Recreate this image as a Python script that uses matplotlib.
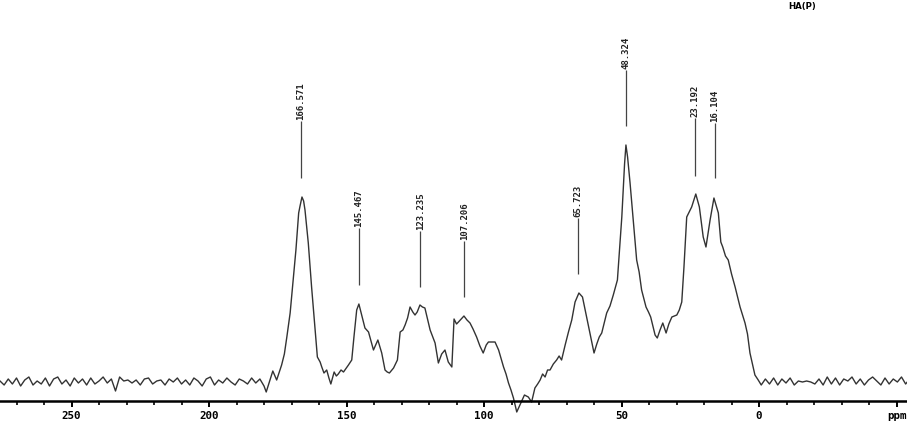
#!/usr/bin/env python3

import numpy as np
import matplotlib
matplotlib.use('Agg')
import matplotlib.pyplot as plt

# spectrum trace (ppm, intensity in arbitrary units)
ppm = [276, 274.5, 273, 271.5, 270, 268.5, 267, 265.5, 264, 262.5, 261, 259.5,
	258, 256.5, 255, 253.5, 252, 250.5, 249, 247.5, 246, 244.5, 243, 241.5,
	240, 238.5, 237, 235.5, 234, 232.5, 231, 229.5, 228, 226.5, 225, 223.5,
	222, 220.5, 219, 217.5, 216, 214.5, 213, 211.5, 210, 208.5, 207, 205.5,
	204, 202.5, 201, 199.5, 198, 196.5, 195, 193.5, 192, 190.5, 189, 187.5,
	186, 184.5, 183, 181.5, 180,
	179.2, 176.8, 175.4, 173.6, 172.6, 171.7, 170.5, 169.3, 168.4, 167.4,
	166.9, 166.2, 165.6, 165.1, 163.9, 162.7, 161.5, 160.6, 159.6, 159.0,
	158.2, 157.2, 156.4, 155.7, 154.5, 153.7, 153.0, 152.0, 151.1, 149.3,
	148.1, 147.3, 146.3, 145.5, 144.5, 143.3, 142.0, 141.0, 140.2, 138.6,
	137.2, 136.0, 135.2, 134.4, 132.9, 131.5, 130.5, 129.5, 128.7, 127.8,
	126.9, 125.9, 125.1, 124.3, 123.3, 122.4, 121.5, 119.6, 117.8, 116.6,
	115.4, 114.2, 113.0, 111.7, 110.9, 110.0, 109.3, 107.3, 106.2, 105.1,
	104.0, 102.7, 101.5, 100.3, 99.2, 98.4, 96.0, 94.7, 92.9, 92.0,
	91.1, 90.2, 89.3, 88.1, 86.6, 85.3, 83.9, 82.7, 81.5, 80.5,
	79.6, 78.7, 77.8, 76.9, 76.0, 74.8, 73.6, 72.7, 71.8, 70.5,
	69.3, 68.1, 66.9, 65.5, 64.2, 62.7, 61.2, 60.0, 59.0, 58.1,
	57.2, 56.2, 55.4, 54.2, 53.0, 51.5, 50.8, 49.9, 48.9, 48.4,
	47.8, 46.9, 45.7, 44.5, 43.6, 42.7, 41.1, 40.2, 39.4, 37.8,
	37.0, 36.0, 35.0, 33.8, 32.8, 31.7, 29.9, 29.0, 28.1, 27.3,
	26.3, 25.4, 24.5, 23.0, 21.7, 20.3, 19.3, 17.8, 16.4, 14.8,
	13.9, 13.2, 12.2, 11.2, 10.0, 8.7, 7.8, 6.9, 5.1, 4.2,
	3.3, 1.5, 0.3,
	-0.8, -2.3, -3.8, -5.3, -6.8, -8.3, -9.8, -11.3, -12.8, -14.3,
	-15.8, -17.3, -18.8, -20.3, -21.8, -23.3, -24.8, -26.3, -27.8, -29.3,
	-30.8, -32.3, -33.8, -35.3, -36.8, -38.3, -39.8, -41.3, -42.8, -44.3,
	-45.8, -47.3, -48.8, -50.3, -51.8, -53.3, -54.5]
intensity = [1, -3, 3, -2, 4, -4, 2, 5, -3, 1, -2, 4,
	-4, 3, 5, -2, 2, -4, 4, -1, 3, -3, 4, -2,
	1, 5, -1, 3, -9, 5, 1, 2, -1, 2, -3, 3,
	4, -2, 1, 2, -3, 3, 0, 4, -2, 2, -3, 4,
	1, -4, 3, 5, -3, 2, -1, 4, 0, -3, 3, 1,
	-2, 4, -1, 3, -4,
	-10, 11, 2, 17, 28, 45, 69, 105, 132, 169,
	176, 185, 181, 172, 139, 95, 55, 25, 20, 15,
	9, 12, 4, -2, 10, 6, 8, 12, 10, 17,
	22, 45, 72, 78, 67, 54, 50, 40, 32, 42,
	29, 12, 10, 9, 14, 22, 50, 52, 57, 64,
	75, 70, 67, 70, 77, 75, 74, 52, 39, 19,
	28, 32, 20, 15, 63, 58, 60, 66, 62, 59,
	53, 45, 36, 29, 37, 40, 40, 32, 15, 8,
	-1, -8, -16, -30, -21, -13, -15, -20, -6, -2,
	2, 8, 5, 12, 12, 18, 22, 26, 22, 37,
	50, 62, 80, 89, 85, 65, 45, 29, 38, 45,
	49, 60, 69, 76, 87, 102, 130, 165, 218, 237,
	225, 199, 160, 122, 110, 92, 75, 70, 65, 47,
	44, 52, 59, 49, 58, 65, 67, 72, 80, 115,
	165, 170, 175, 188, 175, 145, 135, 162, 184, 169,
	140, 135, 126, 122, 108, 95, 85, 75, 59, 48,
	29, 7, 2,
	-3, 3, -2, 4, -3, 3, -1, 4, -3, 1,
	0, 1, 0, -2, 3, -3, 5, -2, 4, -3,
	3, 1, 5, -2, 3, -3, 2, 5, 1, -3,
	4, -2, 3, 0, 5, -2, 2]

# picked peaks
peak_labels = ['166.571', '145.467', '123.235', '107.206', '65.723', '48.324', '23.192', '16.104']
peak_ppm = [166.571, 145.467, 123.235, 107.206, 65.723, 48.324, 23.192, 16.104]
marker_top = [261, 154, 151, 141, 164, 312, 264, 259]
marker_bottom = [204, 97, 95, 85, 108, 256, 206, 204]

major_ticks = [250, 200, 150, 100, 50, 0, -50]
tick_labels = ['250', '200', '150', '100', '50', '0', 'ppm']

fig = plt.figure(figsize=(9.07, 4.22), dpi=100)
ax = fig.add_axes([0, 0, 1, 1])
ax.plot(ppm, intensity, color='#333333', lw=1.0)
ax.set_xlim(276, -53.8)
ax.set_ylim(-40, 382)

for s in ['top', 'left', 'right']:
	ax.spines[s].set_visible(False)
ax.spines['bottom'].set_position(('data', -18.7))
ax.spines['bottom'].set_linewidth(1.8)
ax.set_yticks([])
ax.set_xticks(major_ticks)
ax.set_xticklabels(tick_labels, family='DejaVu Sans Mono', weight='bold', fontsize=7.8)
ax.set_xticks(np.arange(270, -60, -10), minor=True)
ax.tick_params(axis='x', which='major', direction='out', length=4.5, width=1.4, pad=3)
ax.tick_params(axis='x', which='minor', direction='out', length=3, width=1.2)

ax.vlines(peak_ppm, marker_bottom, marker_top, color='#444444', lw=0.9)
for lab, x, top in zip(peak_labels, peak_ppm, marker_top):
	ax.text(x, top + 1, lab, rotation=90, ha='center', va='bottom',
		family='DejaVu Sans Mono', weight='bold', fontsize=6.5, color='#222222')

ax.text(-15.6, 375, 'HA(P)', ha='center', va='center', weight='bold', fontsize=6.2)

plt.savefig('out.png', dpi=100)
plt.close(fig)
